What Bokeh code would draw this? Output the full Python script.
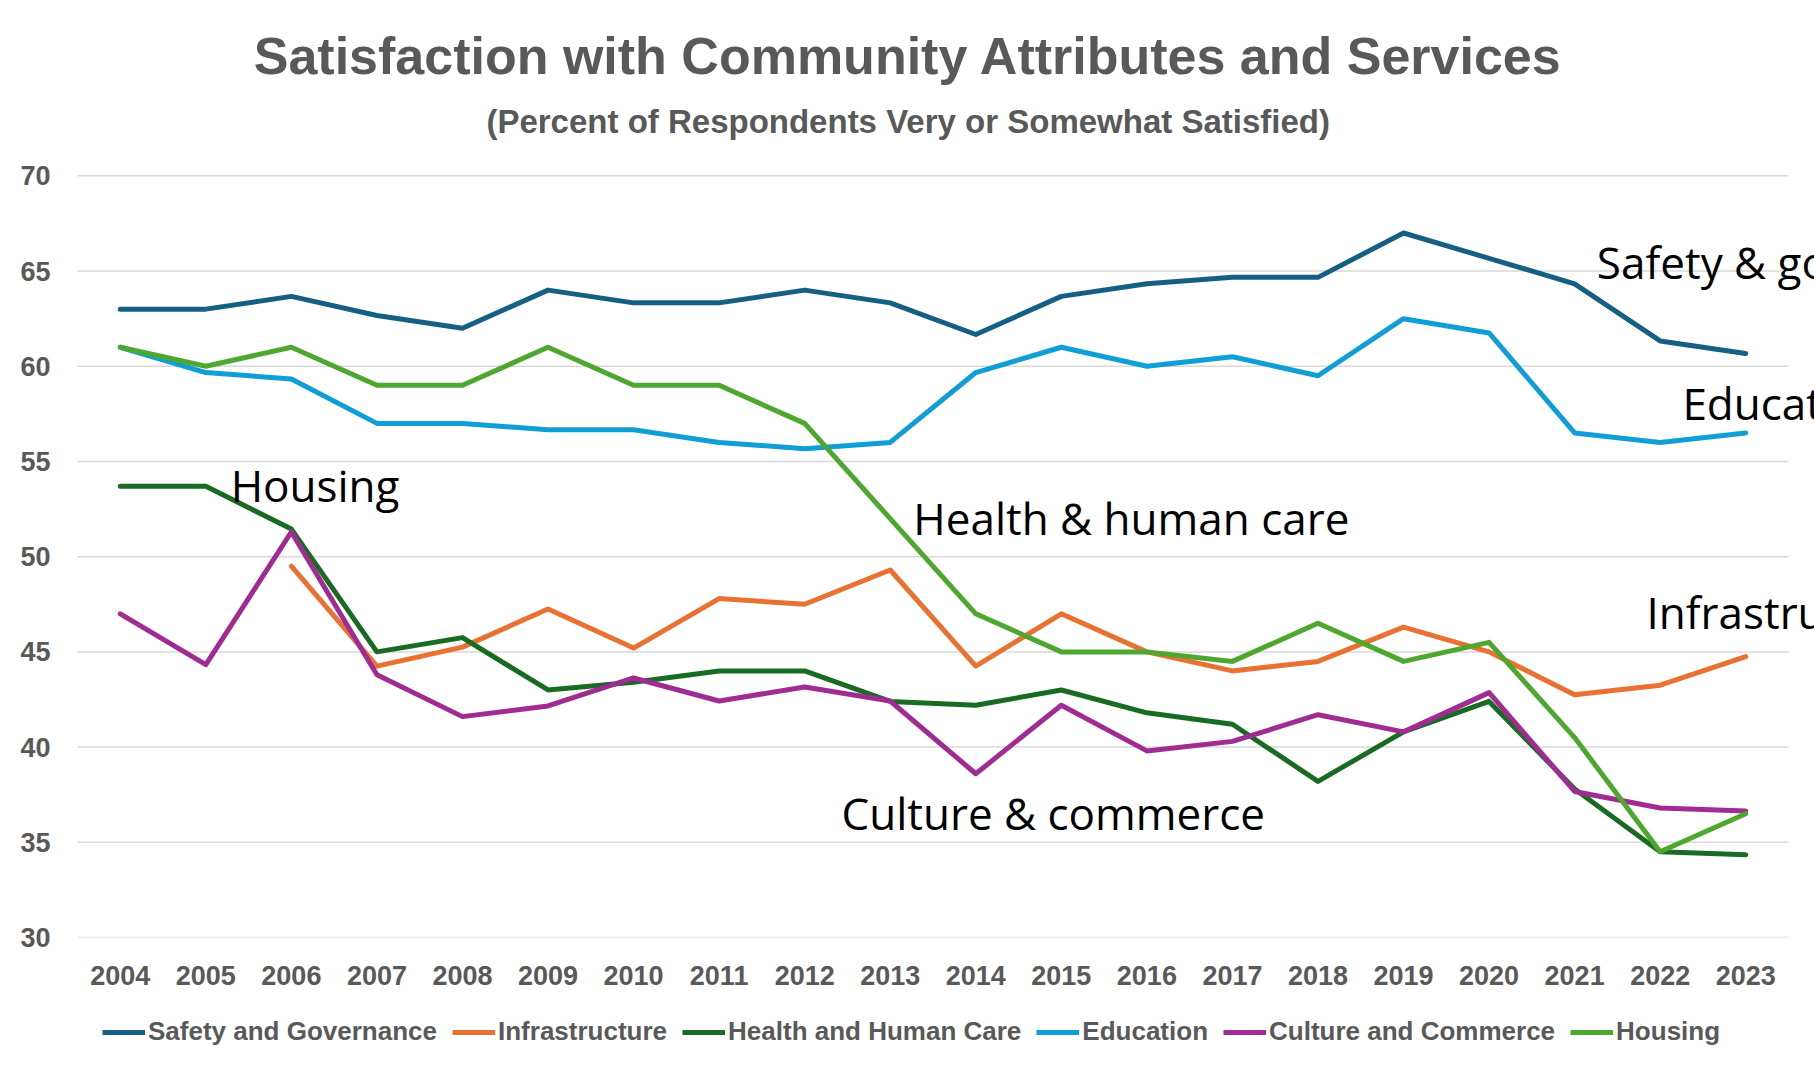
from bokeh.plotting import figure
from bokeh.models import Range1d, FixedTicker, Legend, LegendItem, Label
from bokeh.layouts import column
from bokeh.embed import file_html
from bokeh.resources import INLINE

years = list(range(2004, 2024))
year_labels = [str(y) for y in years]
y_ticks = [30, 35, 40, 45, 50, 55, 60, 65, 70]

safety = [63.0, 63.0, 63.67, 62.67, 62.0, 64.0, 63.33, 63.33, 64.0, 63.33,
          61.67, 63.67, 64.33, 64.67, 64.67, 67.0, 65.67, 64.33, 61.33, 60.67]
infrastructure = [None, None, 49.5, 44.25, 45.25, 47.25, 45.2, 47.8, 47.5, 49.3,
                  44.25, 47.0, 45.0, 44.0, 44.5, 46.3, 45.0, 42.75, 43.25, 44.75]
health = [53.7, 53.7, 51.45, 45.0, 45.75, 43.0, 43.4, 44.0, 44.0, 42.4,
          42.2, 43.0, 41.8, 41.2, 38.2, 40.8, 42.4, 37.8, 34.5, 34.35]
education = [61.0, 59.67, 59.33, 57.0, 57.0, 56.67, 56.67, 56.0, 55.67, 56.0,
             59.67, 61.0, 60.0, 60.5, 59.5, 62.5, 61.75, 56.5, 56.0, 56.5]
culture = [47.0, 44.33, 51.3, 43.8, 41.6, 42.16, 43.63, 42.42, 43.16, 42.42,
           38.6, 42.2, 39.8, 40.3, 41.7, 40.8, 42.86, 37.67, 36.8, 36.65]
housing = [61.0, 60.0, 61.0, 59.0, 59.0, 61.0, 59.0, 59.0, 57.0, 52.0,
           47.0, 45.0, 45.0, 44.5, 46.5, 44.5, 45.5, 40.5, 34.5, 36.5]

series_names = ["Safety and Governance", "Infrastructure", "Health and Human Care",
                "Education", "Culture and Commerce", "Housing"]
series_values = [safety, infrastructure, health, education, culture, housing]
series_colors = ["#156082", "#E97132", "#196B24", "#0F9ED5", "#A02B93", "#4EA72E"]

annotation_texts = ["Housing", "Health & human care", "Culture & commerce",
                    "Safety & governance", "Education", "Infrastructure"]
annotation_x = [2005.29, 2013.27, 2012.43, 2021.26, 2022.26, 2021.84]
annotation_y = [53.79, 52.05, 36.56, 65.47, 58.09, 47.12]

title_text = "Satisfaction with Community Attributes and Services"
subtitle_text = "(Percent of Respondents Very or Somewhat Satisfied)"

GRAY = "#595959"
W = 1814

# main plot: the frame spans from the page top (titles live inside it) to the x axis
p = figure(width=W, height=1000, output_backend="svg", toolbar_location=None,
           x_range=Range1d(2003.5, 2023.804), y_range=Range1d(30, 79.21),
           min_border_left=77, min_border_right=0, min_border_top=0,
           min_border_bottom=63)
p.outline_line_color = None
p.background_fill_color = "white"
p.border_fill_color = "white"
p.xgrid.grid_line_color = None
p.ygrid.grid_line_color = None

# horizontal gridlines at the y ticks, across the category span
p.segment(x0=[years[0] - 0.5] * len(y_ticks), x1=[years[-1] + 0.5] * len(y_ticks),
          y0=y_ticks, y1=y_ticks, line_color="#D9D9D9", line_width=1.5)

p.yaxis.ticker = FixedTicker(ticks=y_ticks)
p.xaxis.ticker = FixedTicker(ticks=years)
p.xaxis.major_label_overrides = {y: l for y, l in zip(years, year_labels)}

for ax in (p.xaxis, p.yaxis):
    ax.axis_line_color = None
    ax.major_tick_line_color = None
    ax.minor_tick_line_color = None
    ax.major_label_text_font = "Liberation Sans"
    ax.major_label_text_font_style = "bold"
    ax.major_label_text_font_size = "27px"
    ax.major_label_text_color = GRAY
p.yaxis.major_label_standoff = 21
p.xaxis.major_label_standoff = 22

for name, vals, col in zip(series_names, series_values, series_colors):
    ys = [float("nan") if v is None else v for v in vals]
    p.line(years, ys, line_color=col, line_width=5, line_join="round", line_cap="round")

for t, x, y in zip(annotation_texts, annotation_x, annotation_y):
    p.add_layout(Label(x=x, y=y, text=t, text_font="Open Sans", text_font_size="44px",
                       text_color="black", text_baseline="middle", text_align="left"))

p.add_layout(Label(x=2013.21, y=76.27, text=title_text, text_font="Liberation Sans",
                   text_font_style="bold", text_font_size="52px", text_color=GRAY,
                   text_align="center", text_baseline="middle"))
p.add_layout(Label(x=2013.21, y=72.85, text=subtitle_text, text_font="Liberation Sans",
                   text_font_style="bold", text_font_size="33px", text_color=GRAY,
                   text_align="center", text_baseline="middle"))

# legend strip below the chart (its frame is aligned with the main frame by the column)
p2 = figure(width=W, height=70, output_backend="svg", toolbar_location=None,
            x_range=Range1d(0, 1), y_range=Range1d(0, 1),
            x_axis_type=None, y_axis_type=None, min_border=0)
p2.outline_line_color = None
p2.xgrid.grid_line_color = None
p2.ygrid.grid_line_color = None
items = []
for name, vals, col in zip(series_names, series_values, series_colors):
    ys = [float("nan") if v is None else v for v in vals]
    r = p2.line(years, ys, line_color=col, line_width=5)  # out of this strip's view
    items.append(LegendItem(label=name, renderers=[r]))
legend = Legend(items=items, orientation="horizontal", location=(25, 23),
                label_text_font="Liberation Sans", label_text_font_style="bold",
                label_text_font_size="26px", label_text_color=GRAY,
                glyph_width=43, glyph_height=24, label_standoff=3, spacing=15,
                padding=0, margin=0, border_line_color=None,
                background_fill_alpha=0)
p2.add_layout(legend, "center")

layout = column(p, p2, spacing=0)
open("out.html", "w").write(file_html(layout, INLINE))
